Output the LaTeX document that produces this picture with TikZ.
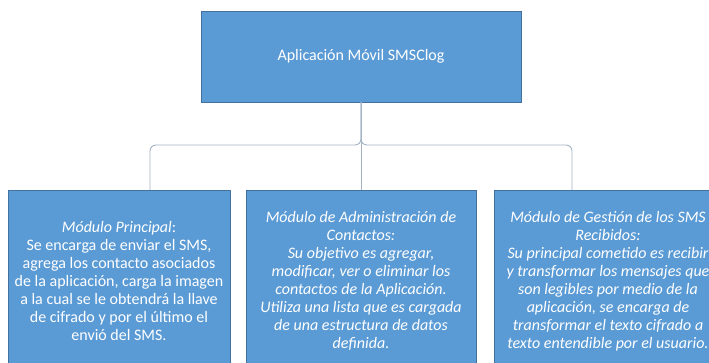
\documentclass[tikz,border=0pt]{standalone}
\usepackage{fontspec}
\setmainfont{Carlito}
\definecolor{boxblue}{HTML}{5B9BD5}
\definecolor{boxedge}{HTML}{41719C}
\definecolor{linkgray}{HTML}{A3B4C4}

\begin{document}
\begin{tikzpicture}[x=1pt,y=1pt,
  modbox/.style={draw=boxedge,fill=boxblue,text=white,align=center,inner sep=0pt,
    font=\fontsize{16}{18}\selectfont},
  link/.style={draw=linkgray,line width=0.9pt,rounded corners=6pt}]
\clip (0,0) rectangle (709,363);
\fill[white] (0,0) rectangle (709,363);

\node[modbox,minimum width=320pt,minimum height=91pt] (app) at (361,306.5) {Aplicación Móvil SMSClog};

\node[modbox,minimum width=222pt,minimum height=182pt] (principal) at (119,82)
  {\textit{Módulo Principal}:\\Se encarga de enviar el SMS,\\agrega los contacto asociados\\de la aplicación, carga la imagen\\a la cual se le obtendrá la llave\\de cifrado y por el último el\\envió del SMS.};
\node[modbox,minimum width=230pt,minimum height=182pt,font=\fontsize{16}{18}\selectfont\itshape] (admin) at (361,82)
  {Módulo de Administración de\\Contactos:\\Su objetivo es agregar,\\modificar, ver o eliminar los\\contactos de la Aplicación.\\Utiliza una lista que es cargada\\de una estructura de datos\\definida.};
\node[modbox,minimum width=228pt,minimum height=182pt,font=\fontsize{16}{18}\selectfont\itshape] (gestion) at (608,82)
  {Módulo de Gestión de los SMS\\Recibidos:\\Su principal cometido es recibir\\y transformar los mensajes que\\son legibles por medio de la\\aplicación, se encarga de\\transformar el texto cifrado a\\texto entendible por el usuario.};

\draw[link] (app.south) -- (361,218) -| ([xshift=31pt]principal.north);
\draw[link] (app.south) -- (361,218) -| ([xshift=-36pt]gestion.north);
\draw[link] (app.south) -- (admin.north);

\end{tikzpicture}
\end{document}
